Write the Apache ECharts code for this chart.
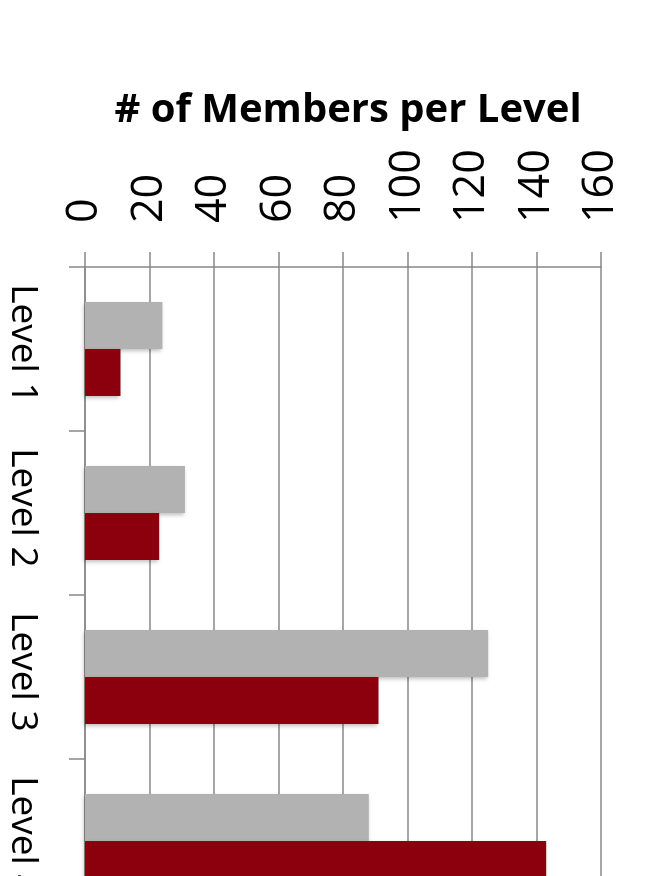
<!DOCTYPE html>
<html>
<head>
<meta charset="utf-8">
<script src="https://cdn.jsdelivr.net/npm/echarts@6/dist/echarts.min.js"></script>
<style>
html,body{margin:0;padding:0;background:#fff;width:665px;height:876px;overflow:hidden;}
#chart{width:665px;height:923px;}
</style>
</head>
<body>
<div id="chart"></div>
<script>
var titleText = '# of Members per Level';
var categories = ['Level 1', 'Level 2', 'Level 3', 'Level 4'];
var seriesGray = [24, 31, 125, 88];
var seriesRed = [11, 23, 91, 143];
var valueMin = 0, valueMax = 160, valueStep = 20;

var FONT = '"Open Sans", "Liberation Sans", sans-serif';
var lineColor = '#888888';
var chart = echarts.init(document.getElementById('chart'), null, {renderer: 'canvas'});
var barShadow = {shadowColor: 'rgba(0,0,0,0.25)', shadowBlur: 4, shadowOffsetX: -1, shadowOffsetY: 2};
chart.setOption({
  animation: false,
  backgroundColor: '#ffffff',
  title: {
    text: titleText,
    left: 343,
    top: 86,
    textAlign: 'center',
    textStyle: {fontFamily: FONT, fontWeight: 'bold', fontSize: 40, color: '#000'}
  },
  grid: {left: 85, right: 64, top: 267, bottom: 0, containLabel: false},
  xAxis: {
    type: 'value',
    position: 'top',
    min: valueMin, max: valueMax, interval: valueStep,
    axisLine: {show: true, lineStyle: {color: lineColor, width: 1.5}},
    axisTick: {show: true, length: 15, lineStyle: {color: lineColor, width: 1.5}},
    splitLine: {show: true, lineStyle: {color: lineColor, width: 1.5}},
    axisLabel: {rotate: -90, margin: 44, fontFamily: FONT, fontSize: 43, color: '#000'}
  },
  yAxis: {
    type: 'category',
    inverse: true,
    data: categories,
    axisLine: {show: true, lineStyle: {color: lineColor, width: 1.5}},
    axisTick: {show: true, interval: 0, length: 16, lineStyle: {color: lineColor, width: 1.5}},
    axisLabel: {interval: 0, rotate: -90, margin: 44, padding: [0, 10, 0, 0], fontFamily: FONT, fontSize: 37, color: '#000'}
  },
  series: [
    {type: 'bar', data: seriesGray, barWidth: 47, barGap: '0%',
     itemStyle: Object.assign({color: '#b2b2b2'}, barShadow)},
    {type: 'bar', data: seriesRed, barWidth: 47, barGap: '0%',
     itemStyle: Object.assign({color: '#8b000c'}, barShadow)}
  ]
});
</script>
</body>
</html>
